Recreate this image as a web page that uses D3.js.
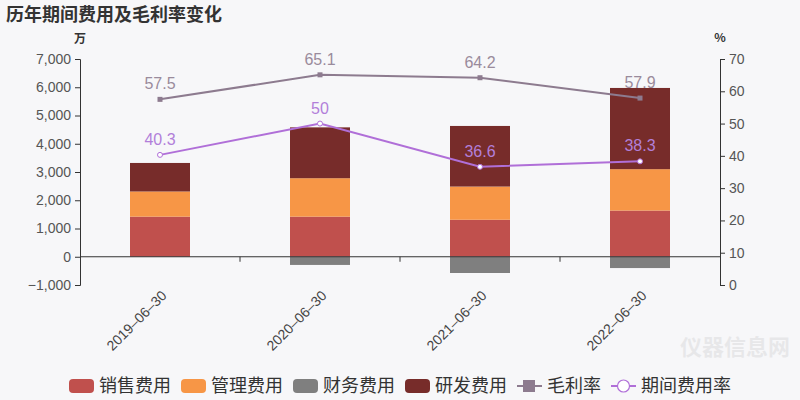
<!DOCTYPE html>
<html>
<head>
<meta charset="utf-8">
<script src="https://cdn.jsdelivr.net/npm/d3@7"></script>
<style>
  body { margin:0; background:#f7f7f9; }
  svg { font-family: "Noto Sans CJK SC", "Liberation Sans", sans-serif; }
</style>
</head>
<body>
<div id="canvas"></div>
<script>
// data
var dates = ['2019-06-30','2020-06-30','2021-06-30','2022-06-30'];
var sales = [1420, 1420, 1310, 1635];
var admin = [890, 1360, 1175, 1465];
var finance = [0, -290, -575, -400];
var rnd = [1010, 1800, 2145, 2875];
var grossRate = [57.5, 65.1, 64.2, 57.9];
var periodRate = [40.3, 50, 36.6, 38.3];
var leftTicks = [-1000, 0, 1000, 2000, 3000, 4000, 5000, 6000, 7000];
var rightTicks = [0, 10, 20, 30, 40, 50, 60, 70];

var W = 800, H = 400;
var m = {t:59, r:80, b:115, l:80};
var w = W - m.l - m.r, h = H - m.t - m.b;

var svg = d3.select('#canvas').append('svg')
    .attr('width', W).attr('height', H);
svg.append('rect').attr('width', W).attr('height', H).attr('fill', '#f7f7f9');

svg.append('text').attr('x', 6).attr('y', 21)
    .attr('font-size', 18).attr('font-weight', 'bold').attr('fill', '#333')
    .text('历年期间费用及毛利率变化');

var plot = svg.append('g').attr('transform', 'translate(' + m.l + ',' + m.t + ')');

var x = d3.scaleBand().domain(dates).range([0, w]);
var y = d3.scaleLinear().domain([-1000, 7000]).range([h, 0]);
var y2 = d3.scaleLinear().domain([0, 70]).range([h, 0]);

var series = [
  {name:'销售费用', values:sales, color:'#c0504d'},
  {name:'管理费用', values:admin, color:'#f79646'},
  {name:'财务费用', values:finance, color:'#7f7f7f'},
  {name:'研发费用', values:rnd, color:'#772c2a'}
];

// stack positive and negative separately
var barW = 60;
var pos = dates.map(function(){ return 0; });
var neg = dates.map(function(){ return 0; });
series.forEach(function(s){
  var rows = s.values.map(function(v, i){
    var r;
    if (v >= 0) { r = {i:i, y0:pos[i], y1:pos[i] + v}; pos[i] += v; }
    else { r = {i:i, y0:neg[i] + v, y1:neg[i]}; neg[i] += v; }
    return r;
  });
  plot.selectAll('.bar-' + s.name).data(rows).enter().append('rect')
      .attr('x', function(d){ return x(dates[d.i]) + x.bandwidth()/2 - barW/2; })
      .attr('y', function(d){ return y(d.y1); })
      .attr('width', barW)
      .attr('height', function(d){ return y(d.y0) - y(d.y1); })
      .attr('fill', s.color);
});

// axes
var axisL = d3.axisLeft(y).tickValues(leftTicks).tickSize(5).tickPadding(4)
    .tickFormat(d3.format(','));
var gL = plot.append('g').call(axisL);
var axisR = d3.axisRight(y2).tickValues(rightTicks).tickSize(5).tickPadding(4);
var gR = plot.append('g').attr('transform', 'translate(' + w + ',0)').call(axisR);
[gL, gR].forEach(function(g){
  g.select('.domain').attr('stroke', '#333');
  g.selectAll('.tick line').attr('stroke', '#333');
  g.selectAll('.tick text').attr('font-size', 14).attr('fill', '#555')
    .attr('font-family', '"Liberation Sans", sans-serif');
});
gL.selectAll('.tick text').text(function(d){ return d3.format(',')(d).replace('-', '−'); });

var gX = plot.append('g').attr('transform', 'translate(0,' + y(0) + ')');
gX.append('line').attr('x1', 0).attr('x2', w).attr('stroke', '#333');
gX.selectAll('.xt').data(dates.slice(1)).enter().append('line')
    .attr('x1', function(d){ return x(d); }).attr('x2', function(d){ return x(d); })
    .attr('y1', 0).attr('y2', 5).attr('stroke', '#333');

plot.selectAll('.xl').data(dates).enter().append('text')
    .attr('transform', function(d){
      return 'translate(' + (x(d) + x.bandwidth()/2 + 4) + ',' + (h - 30 + 38) + ') rotate(-45)';
    })
    .attr('text-anchor', 'end').attr('dy', '0.35em')
    .attr('font-size', 14).attr('fill', '#444')
    .attr('font-family', '"Liberation Sans", sans-serif')
    .text(function(d){ return d.replace(/-/g, '–'); });

// units
svg.append('text').attr('x', 80).attr('y', 43).attr('text-anchor', 'middle')
    .attr('font-size', 12).attr('font-weight', 'bold').attr('fill', '#333').text('万');
svg.append('text').attr('x', 720).attr('y', 42).attr('text-anchor', 'middle')
    .attr('font-size', 12).attr('font-weight', 'bold').attr('fill', '#333').text('%');

// lines
var cx = function(i){ return x(dates[i]) + x.bandwidth()/2; };
var lines = [
  {name:'毛利率', values:grossRate, color:'#8d7b8f', label:'#9a8b9c', marker:'square'},
  {name:'期间费用率', values:periodRate, color:'#b06fd8', label:'#b27fd9', marker:'circle'}
];
lines.forEach(function(l){
  var line = d3.line().x(function(d, i){ return cx(i); }).y(function(d){ return y2(d); });
  plot.append('path').datum(l.values).attr('d', line)
      .attr('fill', 'none').attr('stroke', l.color).attr('stroke-width', 2);
  if (l.marker === 'square') {
    plot.selectAll('.sq').data(l.values).enter().append('rect')
        .attr('x', function(d, i){ return cx(i) - 2.5; })
        .attr('y', function(d){ return y2(d) - 2.5; })
        .attr('width', 5).attr('height', 5).attr('fill', l.color);
  } else {
    plot.selectAll('.ci').data(l.values).enter().append('circle')
        .attr('cx', function(d, i){ return cx(i); })
        .attr('cy', function(d){ return y2(d); })
        .attr('r', 2.5).attr('fill', '#fff').attr('stroke', l.color).attr('stroke-width', 1);
  }
  plot.selectAll('.lb').data(l.values).enter().append('text')
      .attr('x', function(d, i){ return cx(i); })
      .attr('y', function(d){ return y2(d) - 10; })
      .attr('text-anchor', 'middle').attr('font-size', 16).attr('fill', l.label)
      .attr('font-family', '"Liberation Sans", sans-serif')
      .text(function(d){ return d; });
});

// legend
var legendItems = series.map(function(s){ return {name:s.name, color:s.color, type:'bar'}; })
  .concat(lines.map(function(l){ return {name:l.name, color:l.color, type:l.marker}; }));
var fs = 18;
var widths = legendItems.map(function(d){ return 25 + 5 + d.name.length * fs; });
var total = d3.sum(widths) + 10 * (legendItems.length - 1);
var lx = W/2 - total/2;
var legend = svg.append('g');
legendItems.forEach(function(d, i){
  var g = legend.append('g').attr('transform', 'translate(' + lx + ',379)');
  if (d.type === 'bar') {
    g.append('rect').attr('width', 25).attr('height', 14).attr('rx', 4).attr('fill', d.color);
  } else {
    g.append('line').attr('x1', 0).attr('x2', 25).attr('y1', 7).attr('y2', 7)
        .attr('stroke', d.color).attr('stroke-width', 2);
    if (d.type === 'square') {
      g.append('rect').attr('x', 6).attr('y', 1).attr('width', 12).attr('height', 12).attr('fill', d.color);
    } else {
      g.append('circle').attr('cx', 12.5).attr('cy', 7).attr('r', 6)
          .attr('fill', '#fff').attr('stroke', d.color).attr('stroke-width', 1.2);
    }
  }
  g.append('text').attr('x', 30).attr('y', 7).attr('dy', '0.36em')
      .attr('font-size', fs).attr('fill', '#333').text(d.name);
  lx += widths[i] + 10;
});

// watermark
svg.append('text').attr('x', 790).attr('y', 355).attr('text-anchor', 'end')
    .attr('font-size', 22).attr('font-weight', 'bold').attr('fill', '#000')
    .attr('opacity', 0.06).text('仪器信息网');
</script>
</body>
</html>
